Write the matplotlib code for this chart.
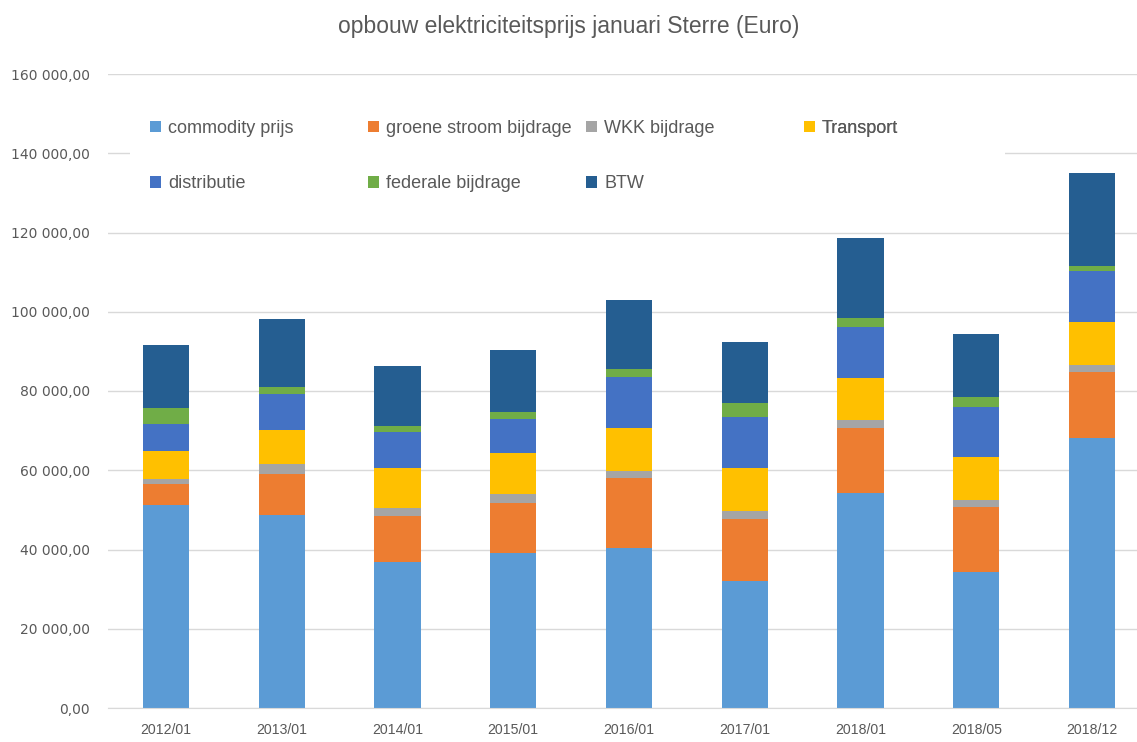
import matplotlib
matplotlib.use("Agg")
import matplotlib.pyplot as plt
from matplotlib.ticker import FuncFormatter, MultipleLocator
from matplotlib.patches import Rectangle
import numpy as np

# data (euro)
periods = ["2012/01", "2013/01", "2014/01", "2015/01", "2016/01",
           "2017/01", "2018/01", "2018/05", "2018/12"]
commodity = [51200, 48800, 36800, 39100, 40500, 32100, 54300, 34300, 68200]
groene_stroom = [5300, 10200, 11700, 12600, 17500, 15700, 16400, 16300, 16600]
wkk = [1200, 2500, 2000, 2400, 1900, 1900, 2000, 1900, 1800]
transport = [7200, 8600, 10100, 10300, 10800, 10900, 10700, 10800, 10800]
distributie = [6800, 9100, 9100, 8600, 12800, 12800, 12700, 12700, 12900]
federale = [3900, 1900, 1500, 1600, 2000, 3600, 2300, 2400, 1300]
btw = [15900, 17100, 15100, 15700, 17500, 15400, 20200, 16000, 23300]

series_names = ["commodity prijs", "groene stroom bijdrage", "WKK bijdrage",
                "Transport", "distributie", "federale bijdrage", "BTW"]
series = [commodity, groene_stroom, wkk, transport, distributie, federale, btw]
colors = ["#5B9BD5", "#ED7D31", "#A5A5A5", "#FFC000",
          "#4472C4", "#70AD47", "#255E91"]

plt.rcParams['font.family'] = ['Liberation Sans', 'DejaVu Sans']
grey = "#595959"

W, H = 1137, 742
fig = plt.figure(figsize=(W / 100, H / 100), dpi=100)
ax = fig.add_axes([108 / W, 34 / H, (W - 108) / W, 634 / H])

x = np.arange(len(periods))
bottom = np.zeros(len(periods))
handles = []
for name, vals, c in zip(series_names, series, colors):
    b = ax.bar(x, vals, 0.4, bottom=bottom, color=c, label=name, zorder=2)
    handles.append(b)
    bottom += np.array(vals)

ax.set_ylim(0, 160000)
ax.set_xlim(-0.5, len(periods) - 0.5 - 13 / 115.9)
ax.yaxis.set_major_locator(MultipleLocator(20000))
ax.yaxis.set_major_formatter(FuncFormatter(
    lambda v, p: f"{v:,.2f}".replace(",", " ").replace(".", ",")))
ax.set_xticks(x)
ax.set_xticklabels(periods, fontsize=10.2, color=grey)
for lab in ax.get_yticklabels():
    lab.set_fontfamily('DejaVu Sans')
    lab.set_fontsize(10)
    lab.set_color(grey)
ax.tick_params(axis='both', length=0)
ax.tick_params(axis='x', pad=11)
ax.tick_params(axis='y', pad=13)
ax.grid(axis='y', color="#d9d9d9", linewidth=1, zorder=0)
ax.set_axisbelow(True)
for s in ["top", "right", "left"]:
    ax.spines[s].set_visible(False)
ax.spines["bottom"].set_color("#d9d9d9")

fig.text(0.5, 1 - 27 / H, "opbouw elektriciteitsprijs januari Sterre (Euro)",
         ha="center", va="center", fontsize=16.5, color=grey)

# white legend area hiding the gridline
ax.add_patch(Rectangle((130 / W, 1 - 200 / H), 875 / W, 100 / H,
                       transform=fig.transFigure, facecolor="white",
                       edgecolor="none", zorder=1.5))

cols = [[0, 4], [1, 5], [2, 6], [3]]
col_x = [150, 368, 586, 804]
for cx, idx in zip(col_x, cols):
    leg = ax.legend([handles[j] for j in idx], [series_names[j] for j in idx],
                    loc="upper left", bbox_to_anchor=(cx / W, 1 - 120 / H),
                    bbox_transform=fig.transFigure, frameon=False,
                    fontsize=13, labelcolor=grey, borderpad=0,
                    borderaxespad=0, handlelength=0.6, handleheight=0.6,
                    handletextpad=0.4, labelspacing=2.12)
    ax.add_artist(leg)

fig.savefig("out.png", dpi=100)
